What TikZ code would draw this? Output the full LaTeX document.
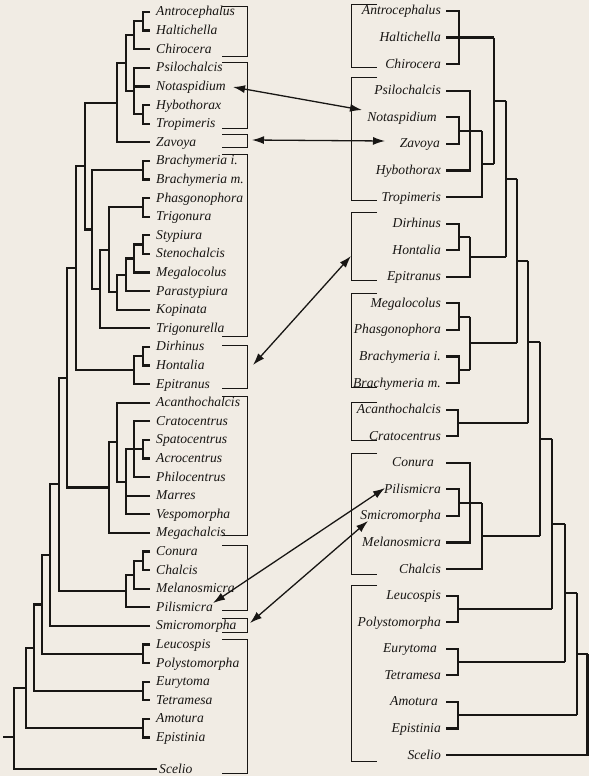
\documentclass[tikz,border=0pt]{standalone}
\usepackage{fontspec}
\setmainfont{Liberation Serif}
\usetikzlibrary{arrows.meta}
\definecolor{paper}{RGB}{241,236,228}
\definecolor{ink}{RGB}{24,22,20}

\begin{document}
\begin{tikzpicture}[x=1pt,y=-1pt,
    tree/.style={ink,line width=2.2pt},
    box/.style={ink,line width=0.9pt},
    taxl/.style={anchor=west,inner sep=0pt,text height=8pt,text depth=0pt,text=ink,
      font=\fontsize{13.6}{16}\selectfont\itshape},
    taxr/.style={taxl,anchor=east},
    link/.style={ink,line width=1.3pt,{Latex[length=12pt,width=8pt]}-{Latex[length=12pt,width=8pt]}}]
      \useasboundingbox (0,0) rectangle (589,776);
      \fill[paper] (0,0) rectangle (589,776);

      \node[taxl] (lantr) at (156,12) {Antrocephalus};
      \node[taxl] (lhalt) at (156,30.6) {Haltichella};
      \node[taxl] (lchir) at (156,49.2) {Chirocera};
      \node[taxl] (lpsil) at (156,67.8) {Psilochalcis};
      \node[taxl] (lnota) at (156,86.4) {Notaspidium};
      \node[taxl] (lhybo) at (156,105) {Hybothorax};
      \node[taxl] (ltrop) at (156,123.6) {Tropimeris};
      \node[taxl] (lzavo) at (156,142.2) {Zavoya};
      \node[taxl] (lbrai) at (156,160.8) {Brachymeria i.};
      \node[taxl] (lbram) at (156,179.4) {Brachymeria m.};
      \node[taxl] (lphas) at (156,198) {Phasgonophora};
      \node[taxl] (ltrig) at (156,216.6) {Trigonura};
      \node[taxl] (lstyp) at (156,235.2) {Stypiura};
      \node[taxl] (lsten) at (156,253.8) {Stenochalcis};
      \node[taxl] (lmegl) at (156,272.4) {Megalocolus};
      \node[taxl] (lpara) at (156,291) {Parastypiura};
      \node[taxl] (lkopi) at (156,309.6) {Kopinata};
      \node[taxl] (ltgla) at (156,328.2) {Trigonurella};
      \node[taxl] (ldirh) at (156,346.8) {Dirhinus};
      \node[taxl] (lhont) at (156,365.4) {Hontalia};
      \node[taxl] (lepit) at (156,384) {Epitranus};
      \node[taxl] (lacan) at (156,402.6) {Acanthochalcis};
      \node[taxl] (lcrat) at (156,421.2) {Cratocentrus};
      \node[taxl] (lspat) at (156,439.8) {Spatocentrus};
      \node[taxl] (lacro) at (156,458.4) {Acrocentrus};
      \node[taxl] (lphil) at (156,477) {Philocentrus};
      \node[taxl] (lmarr) at (156,495.6) {Marres};
      \node[taxl] (lvesp) at (156,514.2) {Vespomorpha};
      \node[taxl] (lmegc) at (156,532.8) {Megachalcis};
      \node[taxl] (lconu) at (156,551.4) {Conura};
      \node[taxl] (lchal) at (156,570) {Chalcis};
      \node[taxl] (lmela) at (156,588.6) {Melanosmicra};
      \node[taxl] (lpili) at (156,607.2) {Pilismicra};
      \node[taxl] (lsmic) at (156,625.8) {Smicromorpha};
      \node[taxl] (lleuc) at (156,644.4) {Leucospis};
      \node[taxl] (lpoly) at (156,663) {Polystomorpha};
      \node[taxl] (leury) at (156,681.6) {Eurytoma};
      \node[taxl] (ltetr) at (156,700.2) {Tetramesa};
      \node[taxl] (lamot) at (156,718.8) {Amotura};
      \node[taxl] (lepis) at (156,737.4) {Epistinia};
      \node[taxl] (lscel) at (159,769) {Scelio};

      \draw[tree] (150,12) -| (143,30.6) -- (150,30.6);
      \draw[tree] (143,21.3) -| (134,49.2) -- (150,49.2);
      \draw[tree] (150,105) -| (143,123.6) -- (150,123.6);
      \draw[tree] (150,67.8) -| (134,114.3) -- (143,114.3) (150,86.4) -- (134,86.4);
      \draw[tree] (134,35.3) -| (126,91.1) -- (134,91.1);
      \draw[tree] (126,63.2) -| (117,142.2) -- (150,142.2);
      \draw[tree] (150,160.8) -| (143,179.4) -- (150,179.4);
      \draw[tree] (150,198) -| (143,216.6) -- (150,216.6);
      \draw[tree] (150,235.2) -| (143,253.8) -- (150,253.8);
      \draw[tree] (143,244.5) -| (134,272.4) -- (150,272.4);
      \draw[tree] (134,258.5) -| (126,291) -- (150,291);
      \draw[tree] (126,274.7) -| (117,309.6) -- (150,309.6);
      \draw[tree] (143,207.3) -| (109,292.2) -- (117,292.2);
      \draw[tree] (109,249.7) -| (100,328.2) -- (150,328.2);
      \draw[tree] (143,170.1) -| (92,289) -- (100,289);
      \draw[tree] (117,102.7) -| (85,229.5) -- (92,229.5);
      \draw[tree] (150,346.8) -| (143,365.4) -- (150,365.4);
      \draw[tree] (143,356.1) -| (134,384) -- (150,384);
      \draw[tree] (85,166.1) -| (76,370) -- (134,370);
      \draw[tree] (150,439.8) -| (143,458.4) -- (150,458.4);
      \draw[tree] (150,421.2) -| (134,477) -- (150,477) (143,449.1) -- (134,449.1);
      \draw[tree] (134,449.1) -| (126,514.2) -- (150,514.2) (150,495.6) -- (126,495.6);
      \draw[tree] (150,402.6) -| (117,481.7) -- (126,481.7);
      \draw[tree] (117,442.1) -| (109,532.8) -- (150,532.8);
      \draw[tree] (76,268) -| (67,487.5) -- (109,487.5);
      \draw[tree] (150,551.4) -| (143,570) -- (150,570);
      \draw[tree] (143,560.7) -| (134,588.6) -- (150,588.6);
      \draw[tree] (134,574.7) -| (126,607.2) -- (150,607.2);
      \draw[tree] (67,377.7) -| (59,590.9) -- (126,590.9);
      \draw[tree] (59,484.3) -| (50,625.8) -- (150,625.8);
      \draw[tree] (150,644.4) -| (143,663) -- (150,663);
      \draw[tree] (50,555) -| (42,653.7) -- (143,653.7);
      \draw[tree] (150,681.6) -| (143,700.2) -- (150,700.2);
      \draw[tree] (42,604.4) -| (34,690.9) -- (143,690.9);
      \draw[tree] (150,718.8) -| (143,737.4) -- (150,737.4);
      \draw[tree] (34,647.6) -| (26,728.1) -- (143,728.1);
      \draw[tree] (26,687.9) -| (14,769) -- (157,769) (14,737) -- (3,737);

      \draw[box] (222,6) -| (247,56) -- (222,56);
      \draw[box] (222,62) -| (247,128) -- (222,128);
      \draw[box] (222,134) -| (247,147) -- (222,147);
      \draw[box] (222,154) -| (247,336) -- (222,336);
      \draw[box] (222,345) -| (247,388) -- (222,388);
      \draw[box] (222,396) -| (247,535) -- (222,535);
      \draw[box] (222,545) -| (247,610) -- (222,610);
      \draw[box] (222,618) -| (247,632) -- (222,632);
      \draw[box] (222,639) -| (247,773) -- (222,773);

      \node[taxr] (rantr) at (441,11) {Antrocephalus};
      \node[taxr] (rhalt) at (441,37.6) {Haltichella};
      \node[taxr] (rchir) at (441,64.1) {Chirocera};
      \node[taxr] (rpsil) at (441,90.7) {Psilochalcis};
      \node[taxr] (rnota) at (437,117.3) {Notaspidium};
      \node[taxr] (rzavo) at (440,143.9) {Zavoya};
      \node[taxr] (rhybo) at (441,170.4) {Hybothorax};
      \node[taxr] (rtrop) at (441,197) {Tropimeris};
      \node[taxr] (rdirh) at (441,223.6) {Dirhinus};
      \node[taxr] (rhont) at (441,250.1) {Hontalia};
      \node[taxr] (repit) at (441,276.7) {Epitranus};
      \node[taxr] (rmegl) at (441,303.3) {Megalocolus};
      \node[taxr] (rphas) at (441,329.8) {Phasgonophora};
      \node[taxr] (rbrai) at (441,356.4) {Brachymeria i.};
      \node[taxr] (rbram) at (441,383) {Brachymeria m.};
      \node[taxr] (racan) at (441,409.6) {Acanthochalcis};
      \node[taxr] (rcrat) at (441,436.1) {Cratocentrus};
      \node[taxr] (rconu) at (434,462.7) {Conura};
      \node[taxr] (rpili) at (441,489.3) {Pilismicra};
      \node[taxr] (rsmic) at (441,515.8) {Smicromorpha};
      \node[taxr] (rmela) at (441,542.4) {Melanosmicra};
      \node[taxr] (rchal) at (441,569) {Chalcis};
      \node[taxr] (rleuc) at (441,595.6) {Leucospis};
      \node[taxr] (rpoly) at (441,622.1) {Polystomorpha};
      \node[taxr] (reury) at (437,648.7) {Eurytoma};
      \node[taxr] (rtetr) at (441,675.3) {Tetramesa};
      \node[taxr] (ramot) at (438,701.8) {Amotura};
      \node[taxr] (repis) at (441,728.4) {Epistinia};
      \node[taxr] (rscel) at (441,755) {Scelio};

      \draw[tree] (446,11) -| (459,64.1) -- (446,64.1) (446,37.6) -- (494,37.6);
      \draw[tree] (446,117.3) -| (459,143.9) -- (446,143.9) (459,130.6) -- (482,130.6);
      \draw[tree] (446,90.7) -| (470,170.4) -- (446,170.4);
      \draw[tree] (446,197) -| (482,130.6) (482,163.8) -- (494,163.8);
      \draw[tree] (494,37.6) -- (494,163.8) (494,100.7) -- (506,100.7);
      \draw[tree] (446,223.6) -| (459,250.1) -- (446,250.1) (459,236.9) -- (470,236.9);
      \draw[tree] (470,236.9) |- (446,276.7) (470,256.8) -- (506,256.8);
      \draw[tree] (506,100.7) -- (506,256.8) (506,178.7) -- (517,178.7);
      \draw[tree] (446,303.3) -| (459,329.8) -- (446,329.8) (459,316.6) -- (470,316.6);
      \draw[tree] (446,356.4) -| (459,383) -- (446,383) (459,369.7) -- (470,369.7);
      \draw[tree] (470,316.6) -- (470,369.7) (470,343.1) -- (517,343.1);
      \draw[tree] (517,178.7) -- (517,343.1) (517,260.9) -- (528,260.9);
      \draw[tree] (446,409.6) -| (458,436.1) -- (446,436.1) (458,422.9) -- (528,422.9);
      \draw[tree] (528,260.9) -- (528,422.9) (528,341.9) -- (540,341.9);
      \draw[tree] (446,489.3) -| (459,515.8) -- (446,515.8) (459,502.6) -- (482,502.6);
      \draw[tree] (446,462.7) -| (470,542.4) -- (446,542.4);
      \draw[tree] (446,569) -| (482,502.6) (482,535.8) -- (540,535.8);
      \draw[tree] (540,341.9) -- (540,535.8) (540,438.9) -- (552,438.9);
      \draw[tree] (446,595.6) -| (458,622.1) -- (446,622.1) (458,608.9) -- (552,608.9);
      \draw[tree] (552,438.9) -- (552,608.9) (552,523.9) -- (565,523.9);
      \draw[tree] (446,648.7) -| (458,675.3) -- (446,675.3) (458,662) -- (565,662);
      \draw[tree] (565,523.9) -- (565,662) (565,593) -- (577,593);
      \draw[tree] (446,701.8) -| (458,728.4) -- (446,728.4) (458,715.1) -- (577,715.1);
      \draw[tree] (577,593) -- (577,715.1) (577,654) -- (587.5,654);
      \draw[tree] (587.5,654) |- (446,755);

      \draw[box] (377,4) -| (351,67) -- (377,67);
      \draw[box] (377,77) -| (351,200) -- (377,200);
      \draw[box] (377,212) -| (351,280) -- (377,280);
      \draw[box] (377,293) -| (351,387) -- (377,387);
      \draw[box] (377,402) -| (351,440) -- (377,440);
      \draw[box] (377,453) -| (351,574) -- (377,574);
      \draw[box] (377,585) -| (351,761) -- (377,761);

      \coordinate (notal) at (233,87);
      \coordinate (notar) at (362,110);
      \coordinate (zavol) at (252,140);
      \coordinate (zavor) at (385,141);
      \coordinate (dirhl) at (253,365);
      \coordinate (dirhr) at (351,256);
      \coordinate (pilil) at (213,603);
      \coordinate (pilir) at (385,488);
      \coordinate (smicl) at (250,623);
      \coordinate (smicr) at (368,521);
      \draw[link] (notal) -- (notar);
      \draw[link] (zavol) -- (zavor);
      \draw[link] (dirhl) -- (dirhr);
      \draw[link] (pilil) -- (pilir);
      \draw[link] (smicl) -- (smicr);
    \end{tikzpicture}
\end{document}
